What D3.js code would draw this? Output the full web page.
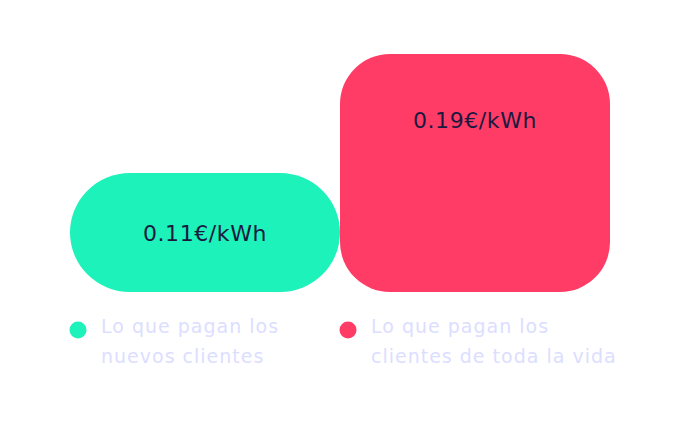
<!DOCTYPE html>
<html>
<head>
<meta charset="utf-8">
<script src="https://cdn.jsdelivr.net/npm/d3@7"></script>
<style>
  body { margin: 0; background: #fff; }
  svg { display: block; }
</style>
</head>
<body>
<svg id="drawing_region"></svg>
<script>
const categories = ['nuevos', 'vida'];
const values = [0.11, 0.19];
const valueLabels = ['0.11€/kWh', '0.19€/kWh'];
const legendLines = [
    ['Lo que pagan los', 'nuevos clientes'],
    ['Lo que pagan los', 'clientes de toda la vida']
];
const colors = ['#1cf2b9', '#ff3c66'];

const config = {
    width: 690,
    height: 422,
    margin: {top: 54, right: 80, bottom: 130, left: 70}
};

const svg = d3.select('#drawing_region')
    .attr('width', config.width)
    .attr('height', config.height);

const inner_width = config.width - config.margin.left - config.margin.right;
const inner_height = config.height - config.margin.top - config.margin.bottom;

const chart = svg.append('g')
    .attr('transform', `translate(${config.margin.left}, ${config.margin.top})`);

const xscale = d3.scaleBand()
    .domain(categories)
    .range([0, inner_width])
    .padding(0);

// baseline of the bars is not zero in the original
const yscale = d3.scaleLinear()
    .domain([0.03, 0.19])
    .range([inner_height, 0]);

const radii = [60, 50];

chart.selectAll('.bar')
    .data(values)
    .enter()
    .append('rect')
    .attr('class', 'bar')
    .attr('x', (d, i) => xscale(categories[i]))
    .attr('y', d => yscale(d))
    .attr('width', xscale.bandwidth())
    .attr('height', d => inner_height - yscale(d))
    .attr('rx', (d, i) => radii[i])
    .attr('ry', (d, i) => radii[i])
    .attr('fill', (d, i) => colors[i]);

// label sits in the middle of short bars, near the top of tall ones
chart.selectAll('.value')
    .data(values)
    .enter()
    .append('text')
    .attr('class', 'value')
    .attr('x', (d, i) => xscale(categories[i]) + xscale.bandwidth() / 2)
    .attr('y', d => Math.min((yscale(d) + inner_height) / 2 + 8, yscale(d) + 74))
    .attr('text-anchor', 'middle')
    .attr('font-family', 'DejaVu Sans')
    .attr('font-size', 22)
    .attr('letter-spacing', 0.6)
    .attr('fill', '#1b1940')
    .text((d, i) => valueLabels[i]);

const legend = chart.selectAll('.legend')
    .data(categories)
    .enter()
    .append('g')
    .attr('class', 'legend')
    .attr('transform', d => `translate(${xscale(d)}, ${inner_height})`);

legend.append('circle')
    .attr('cx', 8)
    .attr('cy', 38)
    .attr('r', 8.5)
    .attr('fill', (d, i) => colors[i]);

legend.append('text')
    .attr('x', 31)
    .attr('y', 41)
    .attr('font-family', 'DejaVu Sans')
    .attr('font-size', 19)
    .attr('letter-spacing', 1)
    .attr('fill', '#dcdeff')
    .selectAll('tspan')
    .data((d, i) => legendLines[i])
    .enter()
    .append('tspan')
    .attr('x', 31)
    .attr('dy', (d, j) => j === 0 ? 0 : 30)
    .text(d => d);
</script>
</body>
</html>
